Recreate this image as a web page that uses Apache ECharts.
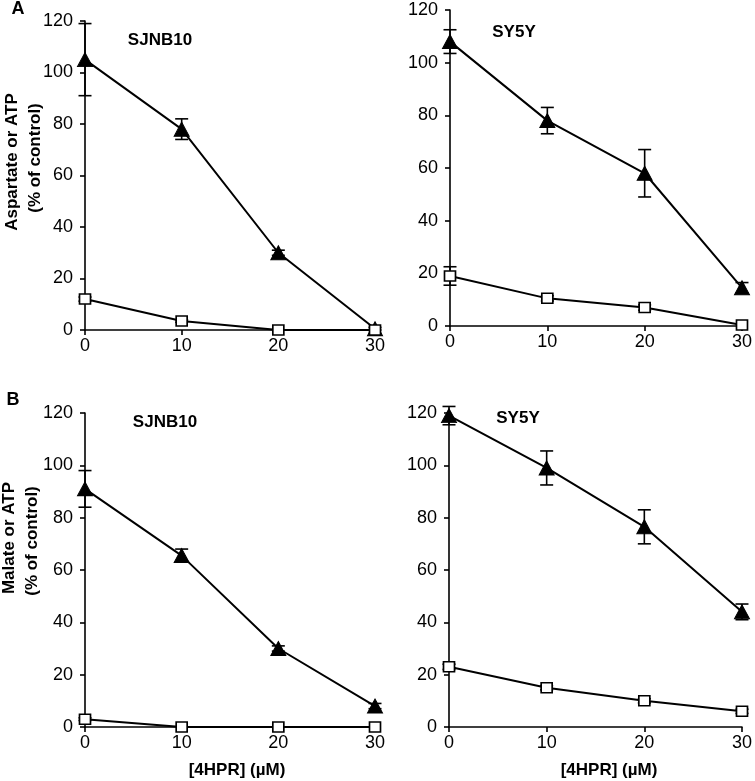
<!DOCTYPE html>
<html><head><meta charset="utf-8">
<script src="https://cdn.jsdelivr.net/npm/echarts@6/dist/echarts.min.js"></script>
<style>html,body{margin:0;padding:0;background:#fff}#c{width:755px;height:781px}</style>
</head><body><div id="c"></div>
<script>
// Data
const doses = [0, 10, 20, 30];
const yTicks = [0, 20, 40, 60, 80, 100, 120];
const panelTitles = ['SJNB10', 'SY5Y', 'SJNB10', 'SY5Y'];
// Panel A SJNB10 (Aspartate ▲, ATP □)
const aSjnbTri = [105, 78, 30, 0.5];
const aSjnbTriErr = [14, 4, 1, 0.5];
const aSjnbSq = [12, 3.5, 0, 0];
const aSjnbSqErr = [0.8, 0.5, 0, 0];
// Panel A SY5Y
const aSyTri = [108, 78, 58, 14.5];
const aSyTriErr = [4.5, 5, 9, 2];
const aSySq = [19, 10.5, 7, 0.4];
const aSySqErr = [3.5, 1, 1, 0];
// Panel B SJNB10 (Malate ▲, ATP □)
const bSjnbTri = [91, 65.5, 30, 8];
const bSjnbTriErr = [7, 2.5, 1, 1];
const bSjnbSq = [3, 0, 0, 0];
const bSjnbSqErr = [0.5, 0, 0, 0];
// Panel B SY5Y
const bSyTri = [119, 99, 76.5, 44];
const bSyTriErr = [3.5, 6.5, 6.5, 3];
const bSySq = [23, 15, 10, 6];
const bSySqErr = [1, 0.8, 0.8, 0.8];

const panels = [
  {tri: aSjnbTri, triErr: aSjnbTriErr, sq: aSjnbSq, sqErr: aSjnbSqErr},
  {tri: aSyTri, triErr: aSyTriErr, sq: aSySq, sqErr: aSySqErr},
  {tri: bSjnbTri, triErr: bSjnbTriErr, sq: bSjnbSq, sqErr: bSjnbSqErr},
  {tri: bSyTri, triErr: bSyTriErr, sq: bSySq, sqErr: bSySqErr}
];

const grids = [
  {left: 85, top: 21, width: 290, height: 309},
  {left: 450, top: 10, width: 294, height: 316},
  {left: 85, top: 413, width: 290, height: 314},
  {left: 449, top: 413, width: 294, height: 314}
];

const FONT = '"Liberation Sans", Arial, sans-serif';
const axisLineStyle = {color: '#000', width: 1.6};

const xAxes = grids.map((g, i) => ({
  type: 'value', gridIndex: i, min: 0, max: 30, interval: 10,
  axisLine: {show: true, onZero: false, lineStyle: axisLineStyle},
  axisTick: {show: true, length: 5, inside: false, lineStyle: axisLineStyle},
  axisLabel: {color: '#000', fontSize: 18, fontFamily: FONT, margin: 7, showMaxLabel: true},
  splitLine: {show: false}
}));
const yAxes = grids.map((g, i) => ({
  type: 'value', gridIndex: i, min: 0, max: 120, interval: 20,
  axisLine: {show: true, lineStyle: axisLineStyle},
  axisTick: {show: true, length: 5, lineStyle: axisLineStyle},
  axisLabel: {color: '#000', fontSize: 18, fontFamily: FONT, margin: 12},
  splitLine: {show: false}
}));

function errSeries(idx, means, errs) {
  const data = doses.map((d, k) => [d, means[k] - errs[k], means[k] + errs[k]]);
  return {
    type: 'custom', xAxisIndex: idx, yAxisIndex: idx, z: 1,
    data: data,
    renderItem: function (params, api) {
      if (api.value(2) - api.value(1) < 0.05) return null;
      const x = api.value(0);
      const lo = api.coord([x, api.value(1)]);
      const hi = api.coord([x, api.value(2)]);
      const hw = 6.5;
      const st = {stroke: '#000', lineWidth: 1.6, fill: null};
      return {type: 'group', children: [
        {type: 'line', shape: {x1: lo[0], y1: lo[1], x2: hi[0], y2: hi[1]}, style: st},
        {type: 'line', shape: {x1: lo[0] - hw, y1: lo[1], x2: lo[0] + hw, y2: lo[1]}, style: st},
        {type: 'line', shape: {x1: hi[0] - hw, y1: hi[1], x2: hi[0] + hw, y2: hi[1]}, style: st}
      ]};
    }
  };
}

const series = [];
panels.forEach((p, i) => {
  series.push(errSeries(i, p.tri, p.triErr));
  series.push(errSeries(i, p.sq, p.sqErr));
  series.push({
    type: 'line', xAxisIndex: i, yAxisIndex: i, z: 3,
    data: doses.map((d, k) => [d, p.tri[k]]),
    symbol: 'triangle', symbolSize: [15, 14], showAllSymbol: true,
    lineStyle: {color: '#000', width: 2},
    itemStyle: {color: '#000', borderColor: '#000', borderWidth: 1},
    clip: false, animation: false
  });
  series.push({
    type: 'line', xAxisIndex: i, yAxisIndex: i, z: 3,
    data: doses.map((d, k) => [d, p.sq[k]]),
    symbol: 'rect', symbolSize: [11, 10], showAllSymbol: true,
    lineStyle: {color: '#000', width: 2},
    itemStyle: {color: '#fff', borderColor: '#000', borderWidth: 1.6},
    clip: false, animation: false
  });
});

const titlePos = [[160, 40], [514, 32], [165, 422], [518, 418]];
const graphics = [];
titlePos.forEach((pos, i) => {
  graphics.push({type: 'text', x: pos[0], y: pos[1], style: {text: panelTitles[i], font: 'bold 17px ' + FONT, fill: '#000', textAlign: 'center', textVerticalAlign: 'middle'}});
});
graphics.push({type: 'text', x: 18, y: 9, style: {text: 'A', font: 'bold 18px ' + FONT, fill: '#000', textAlign: 'center', textVerticalAlign: 'middle'}});
graphics.push({type: 'text', x: 13, y: 400, style: {text: 'B', font: 'bold 18px ' + FONT, fill: '#000', textAlign: 'center', textVerticalAlign: 'middle'}});
function vtext(txt, x, y) {
  graphics.push({type: 'text', x: x, y: y, rotation: Math.PI / 2, style: {text: txt, font: 'bold 17px ' + FONT, fill: '#000', textAlign: 'center', textVerticalAlign: 'middle'}});
}
vtext('Aspartate or ATP', 12, 162);
vtext('(% of control)', 35, 158);
vtext('Malate or ATP', 9, 538);
vtext('(% of control)', 32, 541);
graphics.push({type: 'text', x: 237, y: 770, style: {text: '[4HPR] (µM)', font: 'bold 17px ' + FONT, fill: '#000', textAlign: 'center', textVerticalAlign: 'middle'}});
graphics.push({type: 'text', x: 609, y: 770, style: {text: '[4HPR] (µM)', font: 'bold 17px ' + FONT, fill: '#000', textAlign: 'center', textVerticalAlign: 'middle'}});

const chart = echarts.init(document.getElementById('c'), null, {renderer: 'canvas'});
chart.setOption({
  animation: false,
  backgroundColor: '#fff',
  grid: grids,
  xAxis: xAxes,
  yAxis: yAxes,
  series: series,
  graphic: graphics
});
</script></body></html>
